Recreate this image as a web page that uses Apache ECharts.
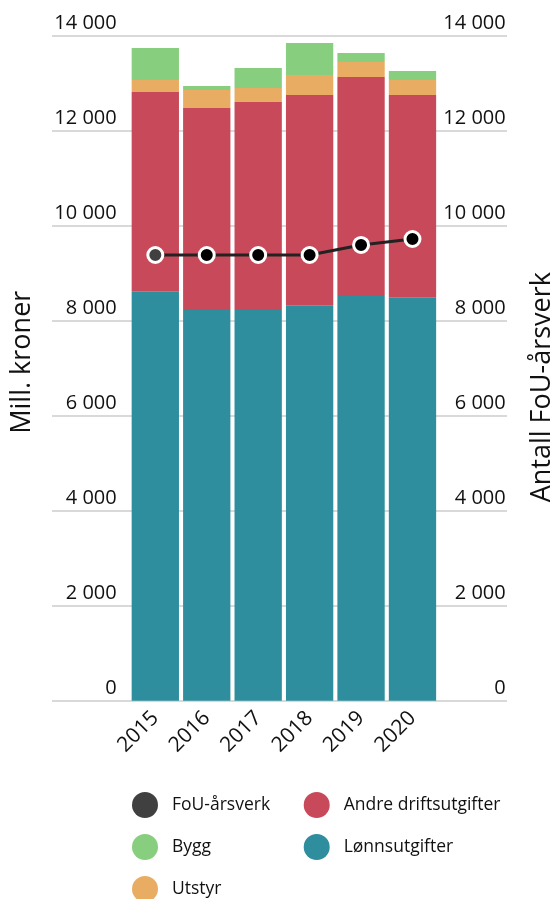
<!DOCTYPE html>
<html>
<head>
<meta charset="utf-8">
<script src="https://cdn.jsdelivr.net/npm/echarts@6/dist/echarts.min.js"></script>
<style>html,body{margin:0;padding:0;background:#fff}#c{width:554px;height:899px}</style>
</head>
<body>
<div id="c"></div>
<script>
const years = ['2015', '2016', '2017', '2018', '2019', '2020'];
const lonnsutgifter = [8610, 8225, 8225, 8324, 8520, 8493];
const andreDrift = [4205, 4253, 4379, 4428, 4611, 4259];
const utstyr = [252, 379, 295, 421, 315, 315];
const bygg = [674, 84, 421, 673, 190, 190];
const fouArsverk = [9383, 9383, 9383, 9383, 9594, 9720];
const yTicks = [0, 2000, 4000, 6000, 8000, 10000, 12000, 14000];

const FONT = 'Open Sans';
const TXT = '#111';
const fmt = v => String(v).replace(/\B(?=(\d{3})+(?!\d))/g, ' ');

const chart = echarts.init(document.getElementById('c'), null, {renderer: 'canvas'});
const yMin = yTicks[0], yMax = yTicks[yTicks.length - 1], yInt = yTicks[1] - yTicks[0];

const legendBase = {orient: 'vertical', padding: 0, itemWidth: 26, itemHeight: 26, itemGap: 16, icon: 'circle',
  textStyle: {fontSize: 17.5, color: TXT, fontFamily: FONT, padding: [0, 0, 0, 9]}};

const option = {
  animation: false,
  textStyle: {fontFamily: FONT},
  grid: [
    {left: 52, right: 47, top: 35.7, bottom: 198.3, containLabel: false, outerBoundsMode: 'none'},
    {left: 129.6, right: 115.8, top: 35.7, bottom: 198.3, containLabel: false, outerBoundsMode: 'none'}
  ],
  xAxis: [
    {gridIndex: 0, type: 'category', data: years, show: false},
    {gridIndex: 1, type: 'category', data: years,
     axisLine: {show: false}, axisTick: {show: false},
     axisLabel: {rotate: 45, margin: 14, fontSize: 21, color: TXT, fontFamily: FONT, interval: 0}}
  ],
  yAxis: [
    {gridIndex: 0, type: 'value', position: 'left', min: yMin, max: yMax, interval: yInt,
     name: 'Mill. kroner', nameLocation: 'middle', nameGap: 16,
     nameTextStyle: {fontSize: 27, color: TXT, fontFamily: FONT, padding: [0, 0, 0, 12]},
     axisLine: {show: false}, axisTick: {show: false},
     splitLine: {show: true, lineStyle: {color: '#d9d9d9', width: 2}},
     axisLabel: {inside: true, margin: 64.7, align: 'right', verticalAlign: 'bottom', padding: [0, 0, 2, 0],
       fontSize: 20, color: TXT, fontFamily: FONT, formatter: fmt}},
    {gridIndex: 0, type: 'value', position: 'right', min: yMin, max: yMax, interval: yInt,
     name: 'Antall FoU-årsverk', nameLocation: 'middle', nameGap: 22,
     nameTextStyle: {fontSize: 27, color: TXT, fontFamily: FONT, padding: [0, 38, 0, 0]},
     axisLine: {show: false}, axisTick: {show: false}, splitLine: {show: false},
     axisLabel: {inside: true, margin: 1.3, align: 'right', verticalAlign: 'bottom', padding: [0, 0, 2, 0],
       fontSize: 20, color: TXT, fontFamily: FONT, formatter: fmt}},
    {gridIndex: 1, type: 'value', min: yMin, max: yMax, interval: yInt, show: false,
     splitLine: {show: false}}
  ],
  legend: [
    Object.assign({left: 132, top: 792, data: [
       {name: 'FoU-årsverk', itemStyle: {color: '#404040', borderWidth: 0}},
       {name: 'Bygg'}]}, legendBase),
    Object.assign({left: 132, top: 876, data: [{name: 'Utstyr'}]}, legendBase),
    Object.assign({left: 303.7, top: 792, data: [{name: 'Andre driftsutgifter'}, {name: 'Lønnsutgifter'}]}, legendBase)
  ],
  series: [
    {name: 'Lønnsutgifter', type: 'bar', stack: 's', xAxisIndex: 1, yAxisIndex: 2, barCategoryGap: '8%',
     itemStyle: {color: '#2e8e9e'}, data: lonnsutgifter},
    {name: 'Andre driftsutgifter', type: 'bar', stack: 's', xAxisIndex: 1, yAxisIndex: 2,
     itemStyle: {color: '#c84a5a'}, data: andreDrift},
    {name: 'Utstyr', type: 'bar', stack: 's', xAxisIndex: 1, yAxisIndex: 2,
     itemStyle: {color: '#e8ad63'}, data: utstyr},
    {name: 'Bygg', type: 'bar', stack: 's', xAxisIndex: 1, yAxisIndex: 2,
     itemStyle: {color: '#87ce7f'}, data: bygg},
    {name: 'FoU-årsverk', type: 'line', xAxisIndex: 1, yAxisIndex: 2, z: 10,
     symbol: 'circle', symbolSize: 15,
     lineStyle: {color: '#222', width: 3},
     itemStyle: {color: '#000', borderColor: '#fff', borderWidth: 3},
     data: fouArsverk.map((v, i) => i === 0 ? {value: v, itemStyle: {color: '#404040'}} : v)}
  ]
};
chart.setOption(option);
</script>
</body>
</html>
